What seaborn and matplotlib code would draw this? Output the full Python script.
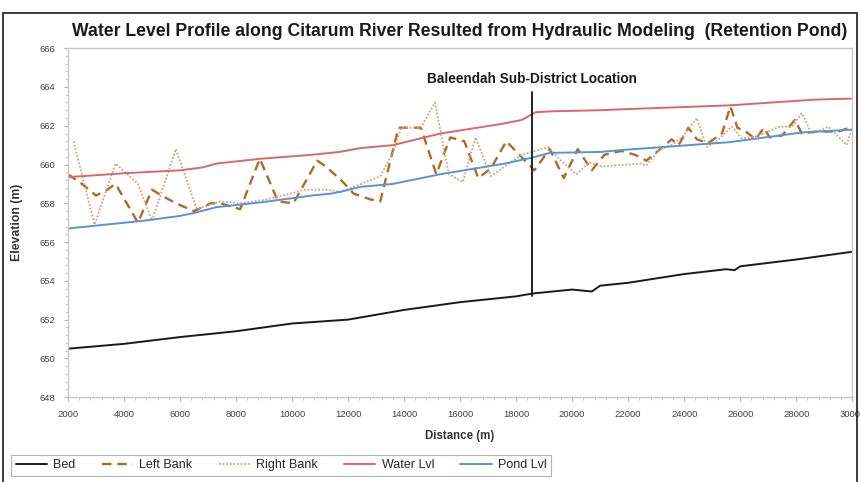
import numpy as np
import pandas as pd
import matplotlib
matplotlib.use("Agg")
import matplotlib.pyplot as plt
from matplotlib.ticker import MultipleLocator
from matplotlib.lines import Line2D
import seaborn as sns

# ── Data ──────────────────────────────────────────────────────────────────────
bed_x = [2000, 4000, 6000, 8000, 10000, 12000, 14000, 16000, 18000, 18600,
         20000, 20700, 21000, 22000, 24000, 25500, 25800, 26000, 28000, 30000]
bed_y = [650.5, 650.75, 651.1, 651.4, 651.8, 652.0, 652.5, 652.9, 653.2, 653.35,
         653.55, 653.45, 653.75, 653.9, 654.35, 654.6, 654.55, 654.75, 655.1, 655.5]

left_x = [2000, 2500, 3000, 3400, 3700, 4500, 5000, 5350, 5850, 6500, 7100, 7450,
          7900, 8150, 8850, 9500, 10050, 10900, 11200, 11750, 12200, 12800, 13150,
          13800, 14600, 15150, 15650, 16150, 16650, 17100, 17650, 18650, 19200,
          19700, 20200, 20700, 21150, 21750, 22250, 22650, 23150, 23550, 23800,
          24150, 24450, 24850, 25350, 25650, 25900, 26200, 26550, 26850, 27050,
          27500, 27950, 28200, 28700, 29500, 30000]
left_y = [659.5, 659.0, 658.4, 658.7, 659.0, 657.0, 658.7, 658.4, 658.0, 657.6, 658.0, 658.0,
          657.8, 657.7, 660.3, 658.1, 658.0, 660.2, 659.9, 659.2, 658.5, 658.2, 658.1,
          661.9, 661.9, 659.5, 661.4, 661.2, 659.3, 659.8, 661.2, 659.7, 660.8,
          659.3, 660.8, 659.7, 660.5, 660.7, 660.5, 660.2, 660.8, 661.3, 661.0,
          661.9, 661.3, 661.1, 661.6, 663.0, 661.9, 661.7, 661.3, 661.9, 661.4,
          661.5, 662.3, 661.6, 661.7, 661.7, 661.95]

right_x = [2200, 2950, 3700, 4500, 5000, 5850, 6600, 7450, 8150, 9100, 9950, 10400,
           11200, 11750, 12200, 13150, 13600, 13900, 14600, 15100, 15600, 16100,
           16550, 17100, 18200, 19150, 19600, 20150, 20600, 21050, 22450, 22650,
           23100, 23550, 23950, 24450, 24800, 25150, 25700, 26050, 26600, 27400,
           27850, 28200, 28550, 29150, 29800, 30000]
right_y = [661.2, 656.9, 660.05, 659.0, 657.1, 660.8, 657.7, 658.1, 658.0, 658.2, 658.5, 658.7,
           658.7, 658.6, 658.85, 659.4, 660.6, 661.9, 661.9, 663.2, 659.5, 659.1,
           661.4, 659.4, 660.5, 660.9, 660.2, 659.5, 660.1, 659.9, 660.05, 659.95,
           660.75, 661.0, 661.45, 662.4, 660.9, 661.2, 661.95, 661.35, 661.45, 661.95,
           661.95, 662.65, 661.6, 661.95, 661.0, 661.9]

water_x = [2000, 4000, 6000, 6800, 7300, 8900, 10700, 11700, 12450, 13600, 15300,
           17500, 18200, 18700, 19400, 21000, 21800, 25600, 28700, 30000]
water_y = [659.35, 659.55, 659.7, 659.85, 660.05, 660.3, 660.5, 660.65, 660.85, 661.0, 661.6,
           662.1, 662.3, 662.7, 662.75, 662.8, 662.85, 663.05, 663.35, 663.4]

pond_x = [2000, 4700, 6000, 6500, 7300, 8900, 10700, 11400, 11750, 12450, 13600,
          15300, 17600, 18700, 19200, 21000, 21800, 25600, 28200, 30000]
pond_y = [656.7, 657.1, 657.35, 657.5, 657.8, 658.05, 658.4, 658.5, 658.6, 658.85, 659.0,
          659.5, 660.05, 660.4, 660.6, 660.65, 660.75, 661.15, 661.65, 661.8]

location_x = 18550
location_y = [653.2, 663.75]
location_label = "Baleendah Sub-District Location"

series = [
    ("Bed", bed_x, bed_y, "#1a1a1a", "-", 1.4),
    ("Left Bank", left_x, left_y, "#b06a28", (0, (4, 2.5)), 1.7),
    ("Right Bank", right_x, right_y, "#d4a27a", (0, (1, 1)), 1.3),
    ("Water Lvl", water_x, water_y, "#d9686a", "-", 1.4),
    ("Pond Lvl", pond_x, pond_y, "#5b93d3", "-", 1.4),
]

# ── Plot ──────────────────────────────────────────────────────────────────────
sns.set_style("white")
plt.rcParams["font.family"] = ["Liberation Sans", "DejaVu Sans"]

fig = plt.figure(figsize=(8.6, 4.82), dpi=100)
ax = fig.add_axes([0.079, 0.176, 0.912, 0.724])

for name, xs, ys, color, ls, lw in series:
    df = pd.DataFrame({"x": xs, "y": ys})
    sns.lineplot(data=df, x="x", y="y", ax=ax, color=color, linestyle=ls,
                 linewidth=lw, sort=False, legend=False)

ax.plot([location_x, location_x], location_y, color="#222222", lw=1.4)
ax.text(location_x, 664.05, location_label, ha="center", va="bottom",
        fontsize=9.8, fontweight="bold", color="#1a1a1a")

ax.set_xlim(2000, 30000)
ax.set_ylim(648, 666)
ax.xaxis.set_major_locator(MultipleLocator(2000))
ax.xaxis.set_minor_locator(MultipleLocator(400))
ax.yaxis.set_major_locator(MultipleLocator(2))
ax.yaxis.set_minor_locator(MultipleLocator(0.4))
ax.tick_params(axis="both", which="major", direction="out", length=3,
               color="#b0b0b0", labelsize=6.8, labelcolor="#404040", pad=6)
ax.tick_params(axis="both", which="minor", direction="out", length=2,
               color="#c0c0c0")
ax.tick_params(axis="x", which="both", bottom=True)
ax.tick_params(axis="y", which="both", left=True)
for sp in ax.spines.values():
    sp.set_color("#c8c8c8")
    sp.set_linewidth(1.0)

ax.set_xlabel("Distance (m)", fontsize=8.3, fontweight="bold", color="#333333",
              labelpad=8)
ax.set_ylabel("Elevation (m)", fontsize=8.8, fontweight="bold", color="#333333",
              labelpad=12)

fig.text(0.535, 0.935, "Water Level Profile along Citarum River Resulted from "
         "Hydraulic Modeling  (Retention Pond)", ha="center", va="center",
         fontsize=12.7, fontweight="bold", color="#1a1a1a")

handles = [Line2D([], [], color=c, linestyle=ls, linewidth=lw)
           for _, _, _, c, ls, lw in series]
labels = [s[0] for s in series]
leg = fig.legend(handles, labels, loc="lower left", ncol=5,
                 bbox_to_anchor=(0.006, 0.0), fontsize=9, frameon=True,
                 fancybox=False, edgecolor="#a0a0a0", handlelength=2.5,
                 columnspacing=2.1, handletextpad=0.5, borderpad=0.35)
leg.get_frame().set_linewidth(0.8)

# outer chart frame
fig.add_artist(plt.Rectangle((0.004, -0.01), 0.992, 0.983, transform=fig.transFigure,
                             fill=False, edgecolor="#1a1a1a", linewidth=1.2))

fig.savefig("out.png", dpi=100)
